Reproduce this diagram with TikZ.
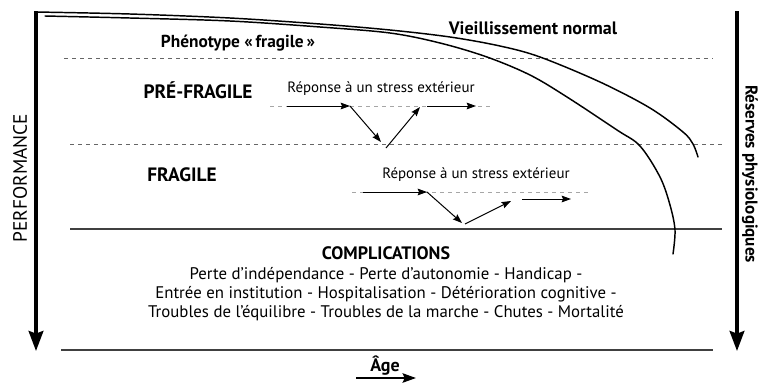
\documentclass[tikz,border=0pt]{standalone}
\usepackage{fontspec}
\setmainfont{PT Sans}
\usetikzlibrary{arrows.meta}
\tikzset{
  bigarrow/.style={line width=2.6pt, -{Stealth[length=15pt,width=11pt,inset=2pt]}},
  agearrow/.style={line width=1.6pt, -{Stealth[length=10pt,width=7pt,inset=1.5pt]}},
  stressarrow/.style={line width=0.75pt, -{Stealth[length=7pt,width=5pt,inset=1pt]}},
  guide/.style={draw=black!60, line width=0.6pt, dash pattern=on 3pt off 3pt},
  lightguide/.style={draw=black!35, line width=0.5pt, dash pattern=on 3pt off 3pt},
  sepline/.style={draw=black!75, line width=0.8pt},
  curveline/.style={line width=1.1pt, line cap=round},
  lbl/.style={inner sep=0pt, font=\fontsize{13}{15}\selectfont\bfseries},
  big/.style={inner sep=0pt, font=\fontsize{14.5}{17}\selectfont\bfseries},
  small/.style={inner sep=0pt, font=\fontsize{11.2}{13}\selectfont},
  body/.style={inner sep=0pt, align=center, font=\fontsize{12.6}{14.3}\selectfont},
}
\begin{document}
\begin{tikzpicture}[x=0.75pt,y=-0.75pt]
\useasboundingbox (0,0) rectangle (758,383);

% axes
\coordinate (ltop) at (36,11);
\coordinate (lbot) at (36,351);
\coordinate (rtop) at (737,11);
\coordinate (rbot) at (737,351);
\draw[bigarrow] (ltop) -- (lbot);
\draw[bigarrow] (rtop) -- (rbot);
\node[rotate=90, inner sep=0pt, font=\fontsize{14.5}{16}\selectfont] (perf) at (20,178) {PERFORMANCE};
\node[rotate=-90, lbl, font=\fontsize{12.8}{15}\selectfont\bfseries] (res) at (750,174) {Réserves physiologiques};

% horizontal guides
\coordinate (d1a) at (64,58);  \coordinate (d1b) at (713,58);
\coordinate (d2a) at (70,144); \coordinate (d2b) at (722,144);
\coordinate (s1a) at (70,229); \coordinate (s1b) at (722,229);
\coordinate (s2a) at (61,350); \coordinate (s2b) at (713,350);
\draw[guide] (d1a) -- (d1b);
\draw[guide] (d2a) -- (d2b);
\draw[sepline] (s1a) -- (s1b);
\draw[sepline] (s2a) -- (s2b);

% curves
\draw[curveline] plot[smooth, tension=0.55] coordinates {(36,12) (130,14) (230,18) (320,24) (390,30) (450,37) (500,46) (540,57) (600,82) (650,108) (683,132) (693,144) (698,157)};
\draw[curveline] plot[smooth, tension=0.55] coordinates {(45,16) (130,18) (230,21) (320,27) (390,33) (440,43) (487,57) (530,75) (567,97) (617,130) (640,146) (660,177) (670,205) (675,230) (673,254)};

% labels
\node[lbl] (pheno) at (238,43) {Phénotype «\,fragile\,»};
\node[lbl, font=\fontsize{13.5}{15}\selectfont\bfseries] (vieil) at (533,28) {Vieillissement normal};
\node[big] (pre) at (198,90) {PRÉ-FRAGILE};
\node[big] (frag) at (182,175) {FRAGILE};

% pre-fragile stress response
\node[small] (rep1) at (381,89) {Réponse à un stress extérieur};
\coordinate (g1a) at (270,106); \coordinate (g1b) at (492,106);
\draw[lightguide] (g1a) -- (g1b);
\coordinate (a1) at (287,106); \coordinate (a2) at (350,106);
\coordinate (a3) at (381,142); \coordinate (a4) at (386,148);
\coordinate (a5) at (420,107); \coordinate (a6) at (427,106);
\coordinate (a7) at (476,106);
\draw[stressarrow] (a1) -- (a2);
\draw[stressarrow] (a2) -- (a3);
\draw[stressarrow] (a4) -- (a5);
\draw[stressarrow] (a6) -- (a7);

% fragile stress response
\node[small] (rep2) at (476,175) {Réponse à un stress extérieur};
\coordinate (g2a) at (352,192); \coordinate (g2b) at (588,192);
\draw[lightguide] (g2a) -- (g2b);
\coordinate (b1) at (363,192); \coordinate (b2) at (427,192);
\coordinate (b3) at (462,223); \coordinate (b4) at (465,224);
\coordinate (b5) at (511,201); \coordinate (b6) at (522,199);
\coordinate (b7) at (571,199);
\draw[stressarrow] (b1) -- (b2);
\draw[stressarrow] (b2) -- (b3);
\draw[stressarrow] (b4) -- (b5);
\draw[stressarrow] (b6) -- (b7);

% complications
\node[lbl, font=\fontsize{13.5}{15}\selectfont\bfseries] (compl) at (386,253) {COMPLICATIONS};
\node[body, anchor=north] (list) at (386,267) {Perte d’indépendance - Perte d’autonomie - Handicap -\\
Entrée en institution - Hospitalisation - Détérioration cognitive -\\
Troubles de l’équilibre - Troubles de la marche - Chutes - Mortalité};

% age
\node[lbl, font=\fontsize{13.5}{15}\selectfont\bfseries] (age) at (385,366) {Âge};
\coordinate (ag1) at (356,378); \coordinate (ag2) at (416,378);
\draw[agearrow] (ag1) -- (ag2);
\end{tikzpicture}
\end{document}
